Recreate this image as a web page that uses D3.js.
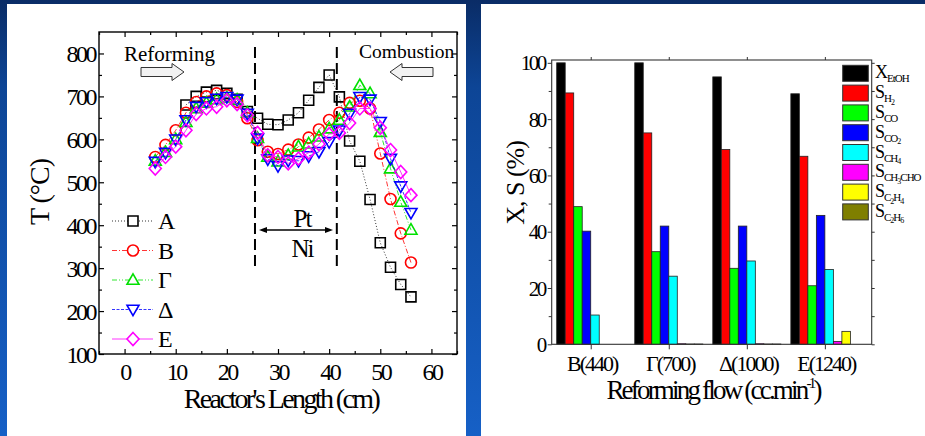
<!DOCTYPE html>
<html>
<head>
<meta charset="utf-8">
<script src="https://cdn.jsdelivr.net/npm/d3@7"></script>
<style>
html, body { margin: 0; padding: 0; overflow: hidden; background: #0c3c86; }
svg { display: block; }
text { font-family: "Liberation Serif", "Times New Roman", serif; fill: #000; }
</style>
</head>
<body>
<svg id="figure" width="925" height="436"></svg>
<script>
// ---- left panel: temperature along the reactor ----
const positions = [6, 8, 10, 12, 14, 16, 18, 20, 22, 24, 26, 28, 30, 32, 34, 36, 38, 40, 42, 44, 46, 48, 50, 52, 54, 56];
const tempA = [null, null, null, 680, 700, 710, 714, 707, 693, 665, 649, 635, 634, 645, 662, 691, 721, 750, 699, 596, 549, 460, 359, 302, 262, 233];
const tempB = [559, 587, 621, 662, 687, 700, 707, 703, 687, 649, 598, 571, 566, 576, 588, 604, 623, 645, 662, 685, 690, 672, 567, 461, 381, 313];
const tempG = [550, 570, 600, 640, 672, 685, 693, 697, 692, 662, 603, 559, 548, 563, 583, 590, 606, 625, 645, 676, 726, 707, 617, 532, 454, 389];
const tempD = [548, 569, 600, 645, 676, 687, 695, 699, 693, 660, 602, 554, 538, 551, 550, 561, 571, 594, 621, 660, 699, 693, 641, 555, 491, 429];
const tempE = [532, 559, 583, 621, 659, 672, 676, 691, 682, 656, 615, 563, 559, 544, 555, 569, 589, 612, 615, 638, 672, 672, 627, 575, 524, 470];
const seriesNames = ["A", "B", "\u0393", "\u0394", "E"];
const seriesColors = ["#000000", "#ff0000", "#00e000", "#0000ff", "#ff00ff"];
const seriesDash = ["1,2", "5,2,1,2", "5,2,1,2,1,2", "3,1.5", null];
const seriesShapes = ["square", "circle", "up", "down", "diamond"];
const xTicksT = [0, 10, 20, 30, 40, 50, 60];
const yTicksT = [100, 200, 300, 400, 500, 600, 700, 800];
const zoneBounds = [25.5, 41.5];

// ---- right panel: conversion and selectivities ----
const flowLabels = ["B(440)", "\u0393(700)", "\u0394(1000)", "E(1240)"];
const xEtOH = [100, 100, 95, 89];
const sH2 = [89.3, 75.1, 69.2, 66.8];
const sCO = [48.9, 32.9, 27, 20.8];
const sCO2 = [40.2, 42, 42, 45.8];
const sCH4 = [10.4, 24.2, 29.6, 26.6];
const sCH3CHO = [0, 0.2, 0.2, 1];
const sC2H4 = [0, 0.1, 0.1, 4.6];
const sC2H6 = [0, 0.1, 0.1, 0];
const productMain = ["X", "S", "S", "S", "S", "S", "S", "S"];
const productSub = ["EtOH", "H2", "CO", "CO2", "CH4", "CH3CHO", "C2H4", "C2H6"];
const productColors = ["#000000", "#ff0000", "#00ff00", "#0000ff", "#00ffff", "#ff00ff", "#ffff00", "#7f7f00"];
const yTicksF = [0, 20, 40, 60, 80, 100];

const svg = d3.select("#figure");

// background and white panels
const defs = svg.append("defs");
const grad = defs.append("linearGradient").attr("id", "bg")
    .attr("x1", 0).attr("y1", 0).attr("x2", 0).attr("y2", 1);
grad.append("stop").attr("offset", 0).attr("stop-color", "#0a2c66");
grad.append("stop").attr("offset", 0.2).attr("stop-color", "#0d4596");
grad.append("stop").attr("offset", 1).attr("stop-color", "#1660c6");
svg.append("rect").attr("width", 925).attr("height", 436).attr("fill", "url(#bg)");
svg.append("rect").attr("x", 7).attr("y", 4).attr("width", 459).attr("height", 432).attr("fill", "#fff");
svg.append("rect").attr("x", 481).attr("y", 4).attr("width", 444).attr("height", 432).attr("fill", "#fff");

// ================= left chart =================
const xT = d3.scaleLinear().domain([-5, 65]).range([99, 457]);
const yT = d3.scaleLinear().domain([100, 850]).range([354, 32]);
const gT = svg.append("g");

function markerPath(shape) {
    switch (shape) {
        case "square": return "M-5,-5h10v10h-10z";
        case "circle": return "M5.5,0A5.5,5.5 0 1,1 -5.5,0A5.5,5.5 0 1,1 5.5,0z";
        case "up": return "M0,-6.2L6,4.3L-6,4.3Z";
        case "down": return "M0,6.2L6,-4.3L-6,-4.3Z";
        default: return "M0,-6.5L6,0L0,6.5L-6,0Z";
    }
}

function styleTicks(sel, fontSize, spacing) {
    sel.attr("font-family", "Liberation Serif").attr("font-size", fontSize);
    sel.select(".domain").remove();
    sel.selectAll(".tick line").attr("stroke", "#000").attr("stroke-width", 1.2);
    sel.selectAll(".tick text").style("letter-spacing", spacing + "px");
}

// minor + major ticks, inward on all sides
const minorX = d3.range(-5, 66, 5).filter(v => v % 10 !== 0);
const minorY = d3.range(150, 850, 100);
gT.append("g").attr("transform", `translate(0,${yT(100)})`)
    .call(d3.axisBottom(xT).tickValues(xTicksT).tickSize(-5).tickPadding(9))
    .call(s => styleTicks(s, 24, -2.5))
    .selectAll(".tick text").attr("dy", "0.7em");
gT.append("g").attr("transform", `translate(0,${yT(100)})`)
    .call(d3.axisBottom(xT).tickValues(minorX).tickSize(-3).tickFormat(""))
    .call(s => styleTicks(s, 10, 0));
gT.append("g").attr("transform", `translate(0,${yT(850)})`)
    .call(d3.axisTop(xT).tickValues(xTicksT).tickSize(-5).tickFormat(""))
    .call(s => styleTicks(s, 10, 0));
gT.append("g").attr("transform", `translate(0,${yT(850)})`)
    .call(d3.axisTop(xT).tickValues(minorX).tickSize(-3).tickFormat(""))
    .call(s => styleTicks(s, 10, 0));
gT.append("g").attr("transform", `translate(${xT(-5)},0)`)
    .call(d3.axisLeft(yT).tickValues(yTicksT).tickSize(-5).tickPadding(4))
    .call(s => styleTicks(s, 24, -2.5))
    .selectAll(".tick text").attr("dy", "0.34em");
gT.append("g").attr("transform", `translate(${xT(-5)},0)`)
    .call(d3.axisLeft(yT).tickValues(minorY).tickSize(-3).tickFormat(""))
    .call(s => styleTicks(s, 10, 0));
gT.append("g").attr("transform", `translate(${xT(65)},0)`)
    .call(d3.axisRight(yT).tickValues(yTicksT).tickSize(-5).tickFormat(""))
    .call(s => styleTicks(s, 10, 0));
gT.append("g").attr("transform", `translate(${xT(65)},0)`)
    .call(d3.axisRight(yT).tickValues(minorY).tickSize(-3).tickFormat(""))
    .call(s => styleTicks(s, 10, 0));

gT.append("rect")
    .attr("x", xT(-5)).attr("y", yT(850))
    .attr("width", xT(65) - xT(-5)).attr("height", yT(100) - yT(850))
    .attr("fill", "none").attr("stroke", "#000").attr("stroke-width", 1.4);

// zone boundaries
gT.selectAll(".zone").data(zoneBounds).join("line")
    .attr("class", "zone")
    .attr("x1", d => xT(d)).attr("x2", d => xT(d))
    .attr("y1", yT(815)).attr("y2", yT(302))
    .attr("stroke", "#000").attr("stroke-width", 2).attr("stroke-dasharray", "11,5");

// series
const temps = [tempA, tempB, tempG, tempD, tempE];
const line = d3.line().defined(d => d.t !== null).x(d => xT(d.x)).y(d => yT(d.t));
temps.forEach((vals, i) => {
    const pts = positions.map((x, k) => ({x: x, t: vals[k]}));
    gT.append("path")
        .datum(pts)
        .attr("d", line)
        .attr("fill", "none")
        .attr("stroke", seriesColors[i])
        .attr("stroke-width", 0.8)
        .attr("stroke-dasharray", seriesDash[i]);
    gT.selectAll(".pt" + i)
        .data(pts.filter(d => d.t !== null))
        .join("path")
        .attr("class", "pt" + i)
        .attr("transform", d => `translate(${xT(d.x)},${yT(d.t)})`)
        .attr("d", markerPath(seriesShapes[i]))
        .attr("fill", "none")
        .attr("stroke", seriesColors[i])
        .attr("stroke-width", 1.6);
});

// legend
const legT = gT.selectAll(".legT").data(seriesNames).join("g")
    .attr("class", "legT")
    .attr("transform", (d, i) => `translate(0,${221 + i * 29.5})`);
legT.append("line")
    .attr("x1", 112).attr("x2", 153)
    .attr("stroke", (d, i) => seriesColors[i])
    .attr("stroke-width", 0.8)
    .attr("stroke-dasharray", (d, i) => seriesDash[i]);
legT.append("path")
    .attr("transform", "translate(133,0)")
    .attr("d", (d, i) => markerPath(seriesShapes[i]))
    .attr("fill", "#fff")
    .attr("stroke", (d, i) => seriesColors[i])
    .attr("stroke-width", 1.6);
legT.append("text")
    .attr("x", 158).attr("y", 8)
    .attr("font-size", 24)
    .text(d => d);

// annotations
gT.append("text").attr("x", 124).attr("y", 61).attr("font-size", 21).text("Reforming");
gT.append("path")
    .attr("d", "M141,67.5H172V63.5L184,72L172,80.5V76.5H141Z")
    .attr("fill", "#f2f2f2").attr("stroke", "#333").attr("stroke-width", 1);
gT.append("text").attr("x", 359).attr("y", 58).attr("font-size", 19.5).text("Combustion");
gT.append("path")
    .attr("d", "M433,67.5H402V63.5L390,72L402,80.5V76.5H433Z")
    .attr("fill", "#f2f2f2").attr("stroke", "#333").attr("stroke-width", 1);
gT.append("text").attr("x", 302).attr("y", 227).attr("font-size", 25)
    .attr("text-anchor", "middle").style("letter-spacing", "-2px").text("Pt");
gT.append("text").attr("x", 302).attr("y", 257).attr("font-size", 25)
    .attr("text-anchor", "middle").style("letter-spacing", "-2px").text("Ni");
gT.append("line").attr("x1", 263).attr("x2", 329).attr("y1", 230).attr("y2", 230)
    .attr("stroke", "#000").attr("stroke-width", 1.3);
gT.append("path").attr("d", "M259,230L267,227V233Z").attr("fill", "#000");
gT.append("path").attr("d", "M333,230L325,227V233Z").attr("fill", "#000");

// axis titles
gT.append("text")
    .attr("x", 281).attr("y", 408)
    .attr("text-anchor", "middle")
    .attr("font-size", 28)
    .style("letter-spacing", "-2.6px")
    .text("Reactor's Length (cm)");
gT.append("text")
    .attr("transform", "translate(49,192) rotate(-90)")
    .attr("text-anchor", "middle")
    .attr("font-size", 28)
    .style("letter-spacing", "-1px")
    .text("T (\u00B0C)");

// ================= right chart =================
const xF = d3.scaleLinear().domain([0.5, 4.6]).range([551.7, 871.7]);
const yF = d3.scaleLinear().domain([0, 101]).range([344.3, 60]);
const barW = 0.109;
const gF = svg.append("g");
const products = [xEtOH, sH2, sCO, sCO2, sCH4, sCH3CHO, sC2H4, sC2H6];

function styleTicksF(sel, fontSize, spacing) {
    sel.attr("font-family", "Liberation Serif").attr("font-size", fontSize);
    sel.select(".domain").remove();
    sel.selectAll(".tick line").attr("stroke", "#333").attr("stroke-width", 1);
    sel.selectAll(".tick text").style("letter-spacing", spacing + "px");
}

const minorF = [10, 30, 50, 70, 90];
gF.append("g").attr("transform", `translate(${xF(0.5)},0)`)
    .call(d3.axisLeft(yF).tickValues(yTicksF).tickSize(4).tickPadding(3))
    .call(s => styleTicksF(s, 21, -2.5))
    .selectAll(".tick text").attr("dy", "0.34em");
gF.append("g").attr("transform", `translate(${xF(0.5)},0)`)
    .call(d3.axisLeft(yF).tickValues(minorF).tickSize(3).tickFormat(""))
    .call(s => styleTicksF(s, 10, 0));
gF.append("g").attr("transform", `translate(${xF(4.6)},0)`)
    .call(d3.axisRight(yF).tickValues(yTicksF.concat(minorF)).tickSize(3).tickFormat(""))
    .call(s => styleTicksF(s, 10, 0));
gF.append("g").attr("transform", `translate(0,${yF(0)})`)
    .call(d3.axisBottom(xF).tickValues([1, 2, 3, 4]).tickSize(5).tickPadding(6)
        .tickFormat(d => flowLabels[d - 1]))
    .call(s => styleTicksF(s, 22, -2))
    .selectAll(".tick text").attr("dy", "0.7em").attr("dx", 1);
gF.append("g").attr("transform", `translate(0,${yF(101)})`)
    .call(d3.axisTop(xF).tickValues([1, 2, 3, 4]).tickSize(3).tickFormat(""))
    .call(s => styleTicksF(s, 10, 0));

// bars
products.forEach((vals, j) => {
    gF.selectAll(".bar" + j)
        .data(vals)
        .join("rect")
        .attr("class", "bar" + j)
        .attr("x", (d, i) => xF(i + 1 + (j - 4) * barW))
        .attr("y", d => yF(d))
        .attr("width", xF(barW) - xF(0))
        .attr("height", d => yF(0) - yF(d))
        .attr("fill", productColors[j])
        .attr("stroke", "#222")
        .attr("stroke-width", 0.8);
});

gF.append("rect")
    .attr("x", xF(0.5)).attr("y", yF(101))
    .attr("width", xF(4.6) - xF(0.5)).attr("height", yF(0) - yF(101))
    .attr("fill", "none").attr("stroke", "#333").attr("stroke-width", 1.1);

// legend
const legF = gF.selectAll(".legF").data(productSub).join("g")
    .attr("class", "legF")
    .attr("transform", (d, i) => `translate(0,${65.3 + i * 19.8})`);
legF.append("rect")
    .attr("x", 842.7).attr("width", 25.6).attr("height", 16)
    .attr("fill", (d, i) => productColors[i])
    .attr("stroke", "#333").attr("stroke-width", 1);
legF.append("text")
    .attr("x", 875).attr("y", 13)
    .attr("font-size", 18)
    .each(function(sub, i) {
        const t = d3.select(this);
        t.append("tspan").style("letter-spacing", "-1px").text(productMain[i]);
        const runs = sub.match(/(\d+|\D+)/g);
        let level = 0;
        runs.forEach((r, k) => {
            const isDigit = /\d/.test(r);
            let dy = 0;
            if (k === 0) dy = 4;
            if (isDigit && level === 0) { dy += 2.5; level = 1; }
            else if (!isDigit && level === 1) { dy -= 2.5; level = 0; }
            t.append("tspan")
                .attr("dy", dy)
                .attr("font-size", isDigit ? 8 : 11)
                .style("letter-spacing", "-1px")
                .text(r);
        });
    });

// axis titles
gF.append("text")
    .attr("x", 713).attr("y", 399)
    .attr("text-anchor", "middle")
    .attr("font-size", 27)
    .style("letter-spacing", "-2.8px")
    .call(t => {
        t.append("tspan").text("Reforming flow (cc.min");
        t.append("tspan").attr("dy", -11).attr("font-size", 15).text("-1");
        t.append("tspan").attr("dy", 11).text(")");
    });
gF.append("text")
    .attr("transform", "translate(524,183) rotate(-90)")
    .attr("text-anchor", "middle")
    .attr("font-size", 26)
    .style("letter-spacing", "-1px")
    .text("X, S (%)");
</script>
</body>
</html>
